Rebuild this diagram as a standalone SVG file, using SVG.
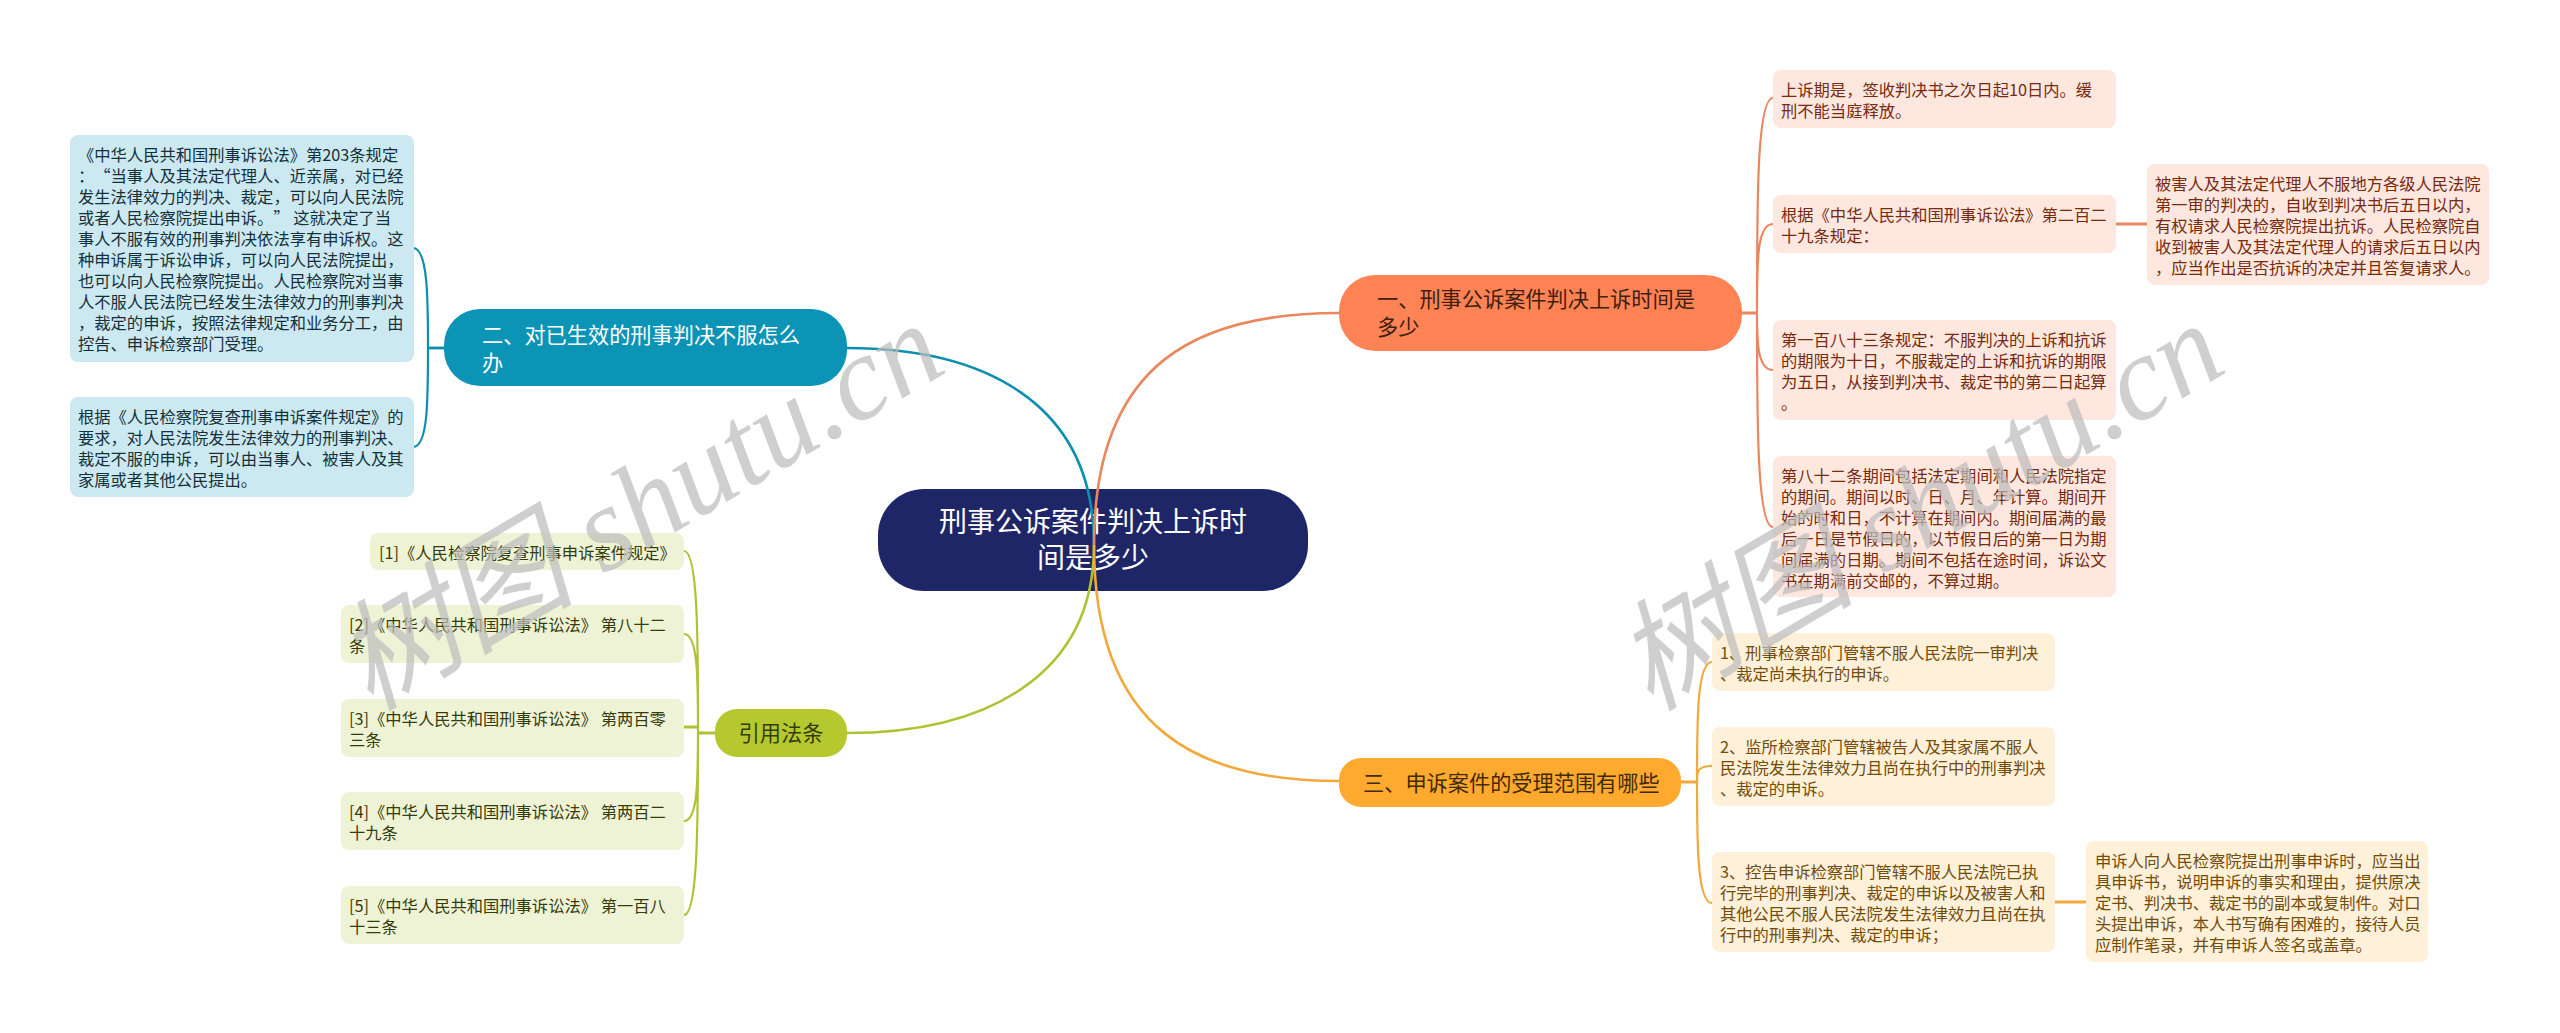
<svg xmlns="http://www.w3.org/2000/svg" width="2560" height="1033" viewBox="0 0 2560 1033">
<style>
text{font-family:"Noto Sans CJK SC","Liberation Sans",sans-serif;text-spacing-trim:space-all;}
.t{font-size:16.3px}
.h{font-size:21.2px}
.m{font-size:28px;fill:#fff;text-anchor:middle}
.c{fill:none;stroke-width:2.2}
.k{fill:none;stroke-width:2.6}
.s{fill:none;stroke-width:2.8}
.wm{font-family:"Liberation Serif","Noto Sans CJK SC",serif;font-style:italic;font-size:120px;fill:#bcbcbc;fill-opacity:.72}
</style>
<rect width="2560" height="1033" fill="#fff"/>
<g id="center"><rect x="878" y="489" width="430" height="102" rx="46" fill="#1f2667"/><text class="m" x="1093" y="532">刑事公诉案件判决上诉时</text><text class="m" x="1093" y="568">间是多少</text></g>
<g id="connectors">
<g stroke="#0b8fae">
<path class="k" d="M847 348C980 348 1094 400 1094 545"/>
<path class="s" d="M444 348H428"/>
<path class="c" d="M428 348C428 300 428 248 413 248M428 348C428 400 428 447 413 447"/>
</g>
<g stroke="#e9875e">
<path class="k" d="M1339 313C1200 313 1094 360 1094 545"/>
<path class="s" d="M1742 313H1757M2116 224H2147"/>
<path class="c" d="M1757 313C1757 200 1757 98 1773 98M1757 313C1757 260 1757 224 1773 224M1757 313C1757 340 1757 370 1773 370M1757 313C1757 420 1757 527 1773 527"/>
</g>
<g stroke="#b0c233">
<path class="k" d="M847 733C980 733 1094 680 1094 545"/>
<path class="s" d="M715 733H698M684 727H698"/>
<path class="c" d="M698 727C698 640 698 551 684 551M698 727C698 680 698 634 684 634M698 727C698 780 698 821 684 821M698 727C698 820 698 915 684 915"/>
</g>
<g stroke="#f2a93b">
<path class="k" d="M1339 781C1200 781 1094 732 1094 545"/>
<path class="s" d="M1681 782H1697M2055 902H2086"/>
<path class="c" d="M1697 782C1697 720 1697 662 1712 662M1697 782C1697 772 1697 766 1712 766M1697 782C1697 840 1697 903 1712 903"/>
</g>
</g>
<g id="n2"><rect x="444" y="309" width="403" height="77" rx="36" fill="#0c94b6"/><g class="h" fill="#fff"><text x="482" y="343">二、对已生效的刑事判决不服怎么</text><text x="482" y="371">办</text></g></g>
<g id="n2a"><rect x="70" y="135" width="344" height="227" rx="8" fill="#cce9f1"/><g class="t" fill="#14303a"><text x="78" y="161">《中华人民共和国刑事诉讼法》第203条规定</text><text x="78" y="182">：“当事人及其法定代理人、近亲属，对已经</text><text x="78" y="203">发生法律效力的判决、裁定，可以向人民法院</text><text x="78" y="224">或者人民检察院提出申诉。” 这就决定了当</text><text x="78" y="245">事人不服有效的刑事判决依法享有申诉权。这</text><text x="78" y="266">种申诉属于诉讼申诉，可以向人民法院提出，</text><text x="78" y="287">也可以向人民检察院提出。人民检察院对当事</text><text x="78" y="308">人不服人民法院已经发生法律效力的刑事判决</text><text x="78" y="329">，裁定的申诉，按照法律规定和业务分工，由</text><text x="78" y="350">控告、申诉检察部门受理。</text></g></g>
<g id="n2b"><rect x="70" y="397" width="344" height="100" rx="8" fill="#cce9f1"/><g class="t" fill="#14303a"><text x="78" y="423">根据《人民检察院复查刑事申诉案件规定》的</text><text x="78" y="444">要求，对人民法院发生法律效力的刑事判决、</text><text x="78" y="465">裁定不服的申诉，可以由当事人、被害人及其</text><text x="78" y="486">家属或者其他公民提出。</text></g></g>
<g id="n4"><rect x="715" y="709" width="132" height="48" rx="22" fill="#b5c92f"/><text class="h" x="781" y="741" text-anchor="middle" fill="#343b0c">引用法条</text></g>
<g id="r1"><rect x="370" y="533" width="314" height="37" rx="8" fill="#eff3d5"/><text class="t" x="379" y="559" fill="#343b0c">[1]《人民检察院复查刑事申诉案件规定》</text></g>
<g id="r2"><rect x="341" y="605" width="343" height="58" rx="8" fill="#eff3d5"/><g class="t" fill="#343b0c"><text x="349" y="631">[2]《中华人民共和国刑事诉讼法》 第八十二</text><text x="349" y="652">条</text></g></g>
<g id="r3"><rect x="341" y="699" width="343" height="58" rx="8" fill="#eff3d5"/><g class="t" fill="#343b0c"><text x="349" y="725">[3]《中华人民共和国刑事诉讼法》 第两百零</text><text x="349" y="746">三条</text></g></g>
<g id="r4"><rect x="341" y="792" width="343" height="58" rx="8" fill="#eff3d5"/><g class="t" fill="#343b0c"><text x="349" y="818">[4]《中华人民共和国刑事诉讼法》 第两百二</text><text x="349" y="839">十九条</text></g></g>
<g id="r5"><rect x="341" y="886" width="343" height="58" rx="8" fill="#eff3d5"/><g class="t" fill="#343b0c"><text x="349" y="912">[5]《中华人民共和国刑事诉讼法》 第一百八</text><text x="349" y="933">十三条</text></g></g>
<g id="n1"><rect x="1339" y="275" width="403" height="76" rx="36" fill="#ff8355"/><g class="h" fill="#40200f"><text x="1377" y="307">一、刑事公诉案件判决上诉时间是</text><text x="1377" y="335">多少</text></g></g>
<g id="a"><rect x="1773" y="70" width="343" height="58" rx="8" fill="#fde7de"/><g class="t" fill="#772a0e"><text x="1781" y="96">上诉期是，签收判决书之次日起10日内。缓</text><text x="1781" y="117">刑不能当庭释放。</text></g></g>
<g id="b"><rect x="1773" y="195" width="343" height="58" rx="8" fill="#fde7de"/><g class="t" fill="#772a0e"><text x="1781" y="221">根据《中华人民共和国刑事诉讼法》第二百二</text><text x="1781" y="242">十九条规定：</text></g></g>
<g id="c"><rect x="1773" y="320" width="343" height="100" rx="8" fill="#fde7de"/><g class="t" fill="#772a0e"><text x="1781" y="346">第一百八十三条规定：不服判决的上诉和抗诉</text><text x="1781" y="367">的期限为十日，不服裁定的上诉和抗诉的期限</text><text x="1781" y="388">为五日，从接到判决书、裁定书的第二日起算</text><text x="1781" y="409">。</text></g></g>
<g id="d"><rect x="1773" y="456" width="343" height="141" rx="8" fill="#fde7de"/><g class="t" fill="#772a0e"><text x="1781" y="482">第八十二条期间包括法定期间和人民法院指定</text><text x="1781" y="503">的期间。期间以时、日、月、年计算。期间开</text><text x="1781" y="524">始的时和日，不计算在期间内。期间届满的最</text><text x="1781" y="545">后一日是节假日的，以节假日后的第一日为期</text><text x="1781" y="566">间届满的日期。期间不包括在途时间，诉讼文</text><text x="1781" y="587">书在期满前交邮的，不算过期。</text></g></g>
<g id="e"><rect x="2147" y="164" width="342" height="121" rx="8" fill="#fde7de"/><g class="t" fill="#772a0e"><text x="2155" y="190">被害人及其法定代理人不服地方各级人民法院</text><text x="2155" y="211">第一审的判决的，自收到判决书后五日以内，</text><text x="2155" y="232">有权请求人民检察院提出抗诉。人民检察院自</text><text x="2155" y="253">收到被害人及其法定代理人的请求后五日以内</text><text x="2155" y="274">，应当作出是否抗诉的决定并且答复请求人。</text></g></g>
<g id="n3"><rect x="1339" y="758" width="342" height="49" rx="22" fill="#ffa92f"/><text class="h" x="1363" y="791" fill="#402b05">三、申诉案件的受理范围有哪些</text></g>
<g id="f"><rect x="1712" y="633" width="343" height="58" rx="8" fill="#fef0d9"/><g class="t" fill="#724c0a"><text x="1720" y="659">1、刑事检察部门管辖不服人民法院一审判决</text><text x="1720" y="680">、裁定尚未执行的申诉。</text></g></g>
<g id="g"><rect x="1712" y="727" width="343" height="79" rx="8" fill="#fef0d9"/><g class="t" fill="#724c0a"><text x="1720" y="753">2、监所检察部门管辖被告人及其家属不服人</text><text x="1720" y="774">民法院发生法律效力且尚在执行中的刑事判决</text><text x="1720" y="795">、裁定的申诉。</text></g></g>
<g id="h"><rect x="1712" y="852" width="343" height="100" rx="8" fill="#fef0d9"/><g class="t" fill="#724c0a"><text x="1720" y="878">3、控告申诉检察部门管辖不服人民法院已执</text><text x="1720" y="899">行完毕的刑事判决、裁定的申诉以及被害人和</text><text x="1720" y="920">其他公民不服人民法院发生法律效力且尚在执</text><text x="1720" y="941">行中的刑事判决、裁定的申诉；</text></g></g>
<g id="i"><rect x="2086" y="841" width="342" height="121" rx="8" fill="#fef0d9"/><g class="t" fill="#724c0a"><text x="2095" y="867">申诉人向人民检察院提出刑事申诉时，应当出</text><text x="2095" y="888">具申诉书，说明申诉的事实和理由，提供原决</text><text x="2095" y="909">定书、判决书、裁定书的副本或复制件。对口</text><text x="2095" y="930">头提出申诉，本人书写确有困难的，接待人员</text><text x="2095" y="951">应制作笔录，并有申诉人签名或盖章。</text></g></g>
<g id="watermarks"><text class="wm" transform="translate(370 712) rotate(-30.5)">树图 shutu.cn</text><text class="wm" transform="translate(1650 712) rotate(-30.5)">树图 shutu.cn</text></g>
</svg>
